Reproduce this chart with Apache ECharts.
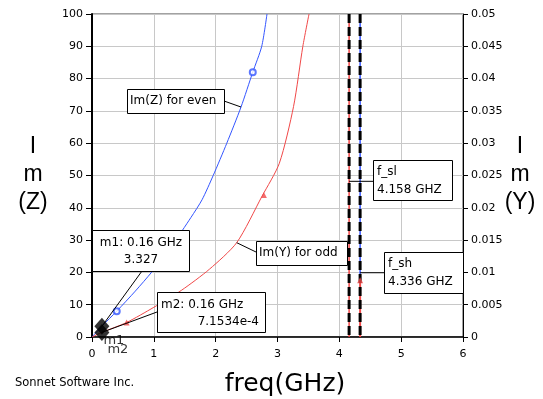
<!DOCTYPE html>
<html>
<head>
<meta charset="utf-8">
<script src="https://cdn.jsdelivr.net/npm/echarts@6/dist/echarts.min.js"></script>
<style>
  html, body { margin: 0; padding: 0; background: #fff; }
  #chart { width: 543px; height: 399px; }
</style>
</head>
<body>
<div id="chart"></div>
<script>
// Im(Z) for even mode (left axis)
const evenFreq = [0, 0.16, 0.4, 0.7, 0.97, 1.3, 1.6, 1.78, 1.96, 2.18, 2.41, 2.6, 2.745, 2.83];
const evenIm = [0, 3.327, 8.0, 14.2, 20.2, 28.5, 37, 42.5, 50, 60, 71.2, 82, 90, 100];
const evenMarkFreq = [0.4, 2.6];
const evenMarkIm = [8.0, 82];

// Im(Y) for odd mode (right axis)
const oddFreq = [0, 0.16, 0.56, 1.0, 1.45, 1.9, 2.34, 2.75, 3.03, 3.26, 3.41, 3.51];
const oddIm = [0, 0.00071534, 0.00225, 0.0046, 0.00725, 0.0105, 0.0146, 0.0218, 0.0269, 0.0357, 0.045, 0.05];
const oddMarkFreq = [0.56, 2.78, 4.336];
const oddMarkIm = [0.00225, 0.022, 0.0088];

// band edges
const fSl = 4.158;
const fSh = 4.336;
const fShSplit = 0.0095;

// markers
const m1 = [0.16, 3.327];
const m2 = [0.16, 7.1534e-4];

const BLUE = '#3355ff';
const RED = '#f04848';
const FONT = 'DejaVu Sans';

const pairs = (xs, ys) => xs.map((x, i) => [x, ys[i]]);

const chart = echarts.init(document.getElementById('chart'));

const tickLabel = { color: '#000', fontFamily: FONT, fontSize: 11 };

chart.setOption({
  animation: false,
  grid: { left: 92, right: 80, top: 14, bottom: 62, show: true, borderColor: '#444', borderWidth: 1 },
  xAxis: {
    type: 'value', min: 0, max: 6, interval: 1,
    axisLine: { lineStyle: { color: '#000', width: 1.5 } },
    axisTick: { show: true, length: 5, lineStyle: { color: '#000' } },
    axisLabel: { ...tickLabel, margin: 12 },
    splitLine: { lineStyle: { color: '#c8c8c8' } }
  },
  yAxis: [{
    type: 'value', min: 0, max: 100, interval: 10,
    axisLine: { show: true, lineStyle: { color: '#000', width: 2 } },
    axisTick: { show: true, length: 6, lineStyle: { color: '#000' } },
    axisLabel: { ...tickLabel, margin: 9 },
    splitLine: { lineStyle: { color: '#c8c8c8' } }
  }, {
    type: 'value', min: 0, max: 0.05, interval: 0.005, position: 'right',
    axisLine: { show: true, lineStyle: { color: '#000', width: 1 } },
    axisTick: { show: true, length: 5, lineStyle: { color: '#000' } },
    axisLabel: { ...tickLabel, margin: 8 },
    splitLine: { show: false }
  }],
  series: [
    {
      name: 'Im(Z) for even', type: 'line', yAxisIndex: 0, data: pairs(evenFreq, evenIm),
      showSymbol: false, smooth: 0.25, lineStyle: { color: BLUE, width: 1 }, z: 3
    },
    {
      type: 'scatter', yAxisIndex: 0, data: pairs(evenMarkFreq, evenMarkIm),
      symbol: 'emptyCircle', symbolSize: 6, itemStyle: { color: BLUE, borderColor: BLUE, borderWidth: 1 }, z: 4
    },
    {
      name: 'Im(Y) for odd', type: 'line', yAxisIndex: 1, data: pairs(oddFreq, oddIm),
      showSymbol: false, smooth: 0.25, lineStyle: { color: RED, width: 1 }, z: 3
    },
    {
      type: 'scatter', yAxisIndex: 1, data: pairs(oddMarkFreq, oddMarkIm),
      symbol: 'triangle', symbolSize: 6, itemStyle: { color: RED }, z: 6
    },
    // coloured traces along the band edges
    {
      type: 'line', yAxisIndex: 1, data: [[fSl, 0], [fSl, 0.05]],
      showSymbol: false, lineStyle: { color: RED, width: 1.5 }, z: 3
    },
    {
      type: 'line', yAxisIndex: 1, data: [[fSh, fShSplit], [fSh, 0.05]],
      showSymbol: false, lineStyle: { color: BLUE, width: 1.5 }, z: 3
    },
    {
      type: 'line', yAxisIndex: 1, data: [[fSh, 0], [fSh, fShSplit]],
      showSymbol: false, lineStyle: { color: RED, width: 2 }, z: 3
    },
    // dashed band-edge markers
    {
      type: 'line', yAxisIndex: 0, data: [[fSl, 100], [fSl, 0]],
      showSymbol: false, lineStyle: { color: '#000', width: 3, type: [9, 4] }, z: 4
    },
    {
      type: 'line', yAxisIndex: 0, data: [[fSh, 100], [fSh, 0]],
      showSymbol: false, lineStyle: { color: '#000', width: 3, type: [9, 4] }, z: 4
    },
    // m1 / m2 markers
    {
      type: 'scatter', yAxisIndex: 0, data: [m1], symbol: 'diamond', symbolSize: [15, 17],
      itemStyle: { color: '#000' }, z: 8,
      label: { show: true, formatter: 'm1', position: 'bottom', distance: -1, offset: [12, 0], color: '#000', fontFamily: FONT, fontSize: 13 }
    },
    {
      type: 'scatter', yAxisIndex: 1, data: [m2], symbol: 'diamond', symbolSize: [15, 17],
      itemStyle: { color: '#000' }, z: 8,
      label: { show: true, formatter: 'm2', position: 'bottom', distance: 2, offset: [16, 0], color: '#000', fontFamily: FONT, fontSize: 13 }
    }
  ]
});

// annotations: boxes, leader lines, axis titles
const px = (pt, yIdx) => chart.convertToPixel({ xAxisIndex: 0, yAxisIndex: yIdx }, pt);

function box(x, y, w, h) {
  return { type: 'rect', shape: { x: x + 0.5, y: y + 0.5, width: w, height: h }, style: { fill: '#fff', stroke: '#000', lineWidth: 1 }, z: 100 };
}
function txt(text, x, y, opts = {}) {
  return {
    type: 'text', x, y, z: 101,
    style: { text, fill: '#000', fontFamily: opts.family || FONT, fontSize: opts.size || 12, align: opts.align || 'left', verticalAlign: 'middle' }
  };
}
function leader(a, b) {
  return { type: 'line', shape: { x1: a[0], y1: a[1], x2: b[0], y2: b[1] }, style: { stroke: '#000', lineWidth: 1 }, z: 99 };
}

const evenHit = px([2.41, 71.2], 0);
const oddHit = px([2.34, 0.0146], 1);
const m1Px = px(m1, 0);
const m2Px = px(m2, 1);
const slPx = px([fSl, 48.2], 0);
const shPx = px([fSh, 19.9], 0);

chart.setOption({
  graphic: [
    leader([224, 101], evenHit),
    box(127, 89, 97, 24), txt('Im(Z) for even', 130, 101),

    leader([256, 252], oddHit),
    box(256, 241, 91, 24), txt('Im(Y) for odd', 259, 253),

    leader([142, 271], m1Px),
    box(92, 230, 97, 41), txt('m1: 0.16 GHz', 141, 243, { align: 'center' }), txt('3.327', 141, 260, { align: 'center' }),

    leader([157, 312], m2Px),
    box(157, 292, 108, 40), txt('m2: 0.16 GHz', 161, 305), txt('7.1534e-4', 259, 322, { align: 'right' }),

    leader(slPx, [373, slPx[1]]),
    box(373, 160, 79, 40), txt('f_sl', 377, 172), txt('4.158 GHZ', 377, 190),

    leader(shPx, [384, shPx[1]]),
    box(384, 252, 79, 41), txt('f_sh', 388, 264), txt('4.336 GHZ', 388, 282),

    txt('I', 33, 147, { align: 'center', size: 23, family: 'Liberation Sans' }),
    txt('m', 33, 175, { align: 'center', size: 23, family: 'Liberation Sans' }),
    txt('(Z)', 33, 203, { align: 'center', size: 23, family: 'Liberation Sans' }),
    txt('I', 520, 147, { align: 'center', size: 23, family: 'Liberation Sans' }),
    txt('m', 520, 175, { align: 'center', size: 23, family: 'Liberation Sans' }),
    txt('(Y)', 520, 203, { align: 'center', size: 23, family: 'Liberation Sans' }),

    txt('freq(GHz)', 285, 384, { align: 'center', size: 25 }),
    txt('Sonnet Software Inc.', 15, 383, { size: 11.5 })
  ]
});

window.addEventListener('resize', () => chart.resize());
</script>
</body>
</html>
